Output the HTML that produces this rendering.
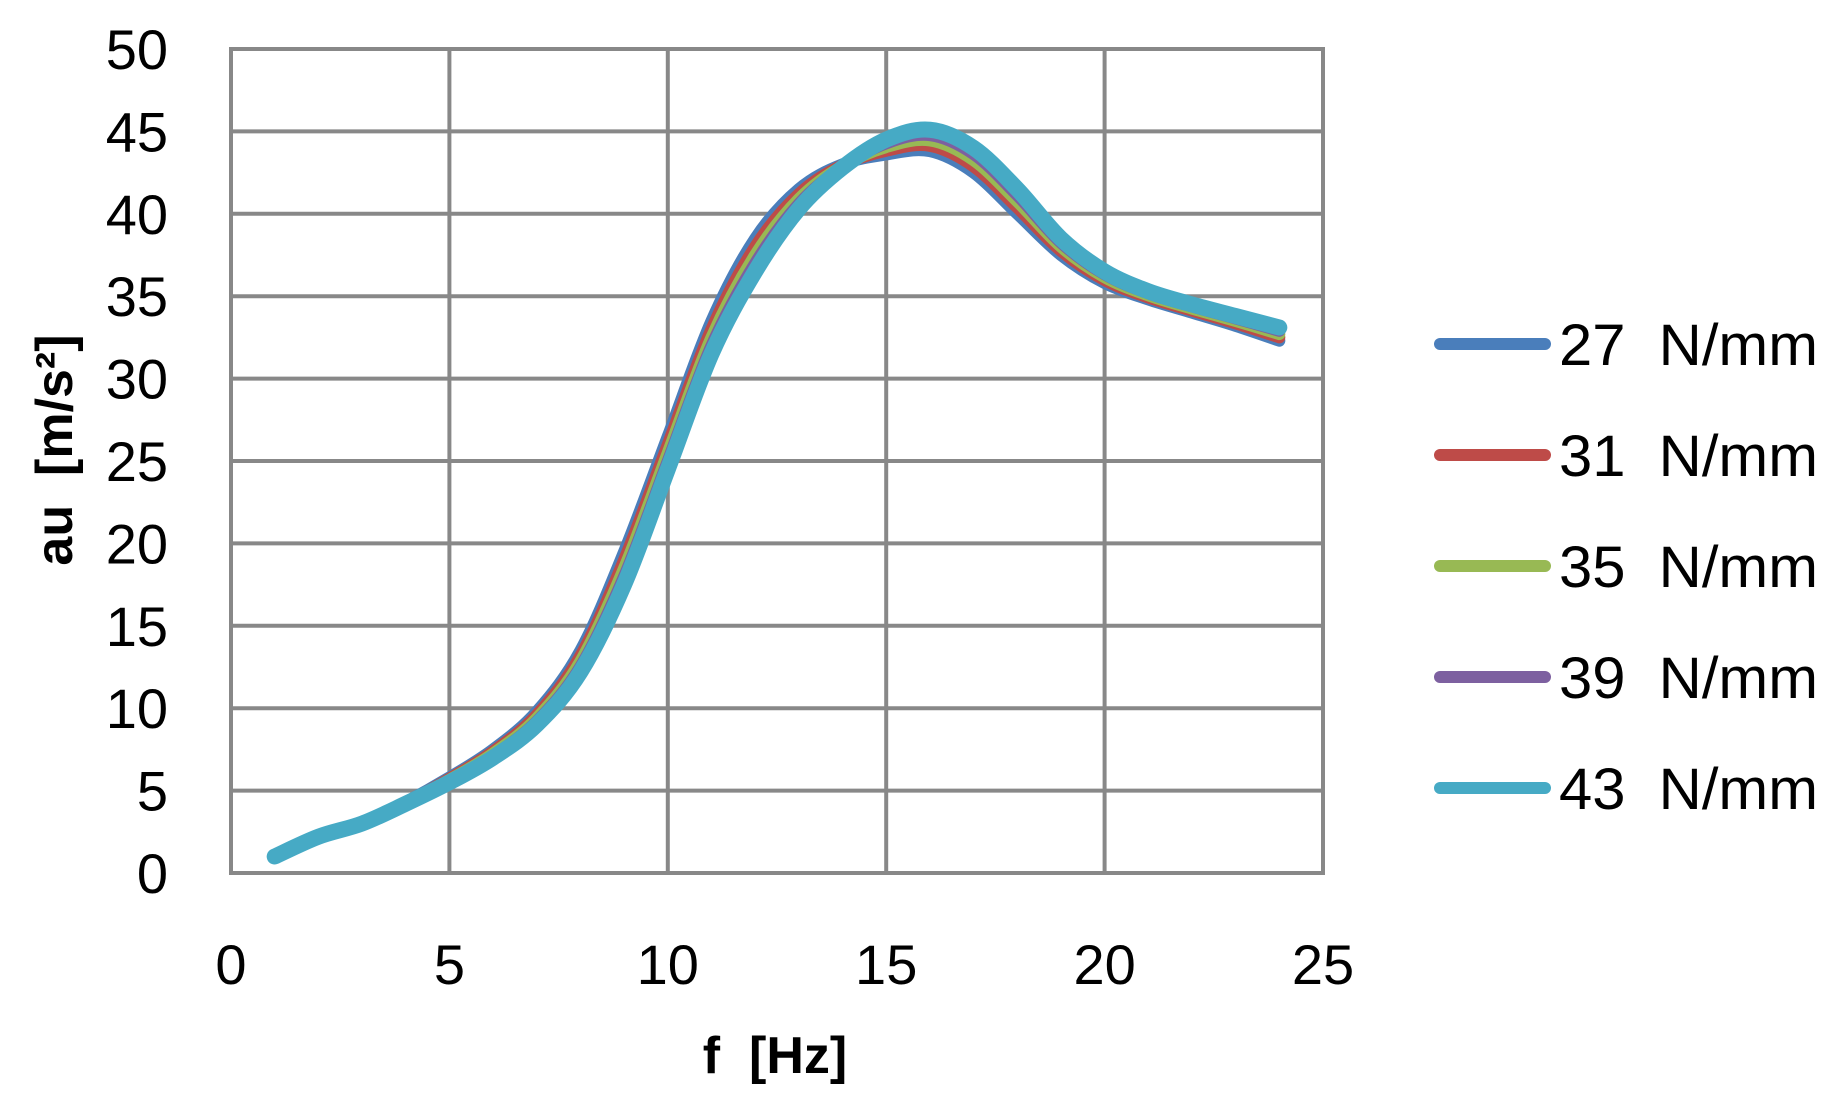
<!DOCTYPE html>
<html><head><meta charset="utf-8"><style>
html,body{margin:0;padding:0;background:#fff}
svg{display:block}
text{font-family:"Liberation Sans",sans-serif;fill:#000;white-space:pre}
</style></head><body>
<svg id="s" width="1846" height="1099" viewBox="0 0 1846 1099" xmlns="http://www.w3.org/2000/svg">
<g id="grid" stroke="#888" stroke-width="4" fill="none"></g>
<g id="curves" fill="none" stroke-linecap="round" stroke-linejoin="round"></g>
<g id="labels" font-size="56"></g>
<text x="775" y="1073" font-size="52" font-weight="bold" text-anchor="middle">f  [Hz]</text>
<text transform="translate(72,450) rotate(-90)" font-size="52" font-weight="bold" text-anchor="middle">au  [m/s²]</text>
<g id="legend"></g>
</svg>
<script>
var L=231,R=1323,T=49,B=873;
function X(v){return L+(R-L)*v/25}
function Y(v){return B-(B-T)*v/50}
var ns="http://www.w3.org/2000/svg";
function el(p,n,a,t){var e=document.createElementNS(ns,n);for(var k in a)e.setAttribute(k,a[k]);if(t!=null)e.textContent=t;document.getElementById(p).appendChild(e);return e}
for(var i=0;i<=5;i++)el("grid","line",{x1:X(i*5),x2:X(i*5),y1:T,y2:B});
for(var j=0;j<=10;j++)el("grid","line",{x1:L-2,x2:R+2,y1:Y(j*5),y2:Y(j*5)});
for(var j=0;j<=10;j++)el("labels","text",{x:168,y:Y(j*5)+20,"text-anchor":"end"},String(j*5));
for(var i=0;i<=5;i++)el("labels","text",{x:X(i*5),y:984,"text-anchor":"middle"},String(i*5));
var a=[1,2.2,3,4.3,5.8,7.5,9.8,13.5,19.5,26.5,33.5,38.5,41.5,43,43.6,43.8,42.5,40,37.5,35.8,34.8,34,33.2,32.3];
var b=[1,2.2,3,4.2,5.5,7,9,12.2,17.5,24.5,31.5,36.5,40.3,42.8,44.5,45.1,44,41.5,38.5,36.5,35.3,34.5,33.8,33.1];
var cols=["#4a7ebb","#be4b48","#98b954","#7d60a0","#46aac5"];
var names=["27","31","35","39","43"];
for(var c=0;c<5;c++){
 var t=c/4,pts=[];
 for(var k=0;k<24;k++)pts.push([X(k+1),Y(a[k]+(b[k]-a[k])*t)]);
 var d="M"+pts[0][0]+","+pts[0][1];
 for(var k=0;k<pts.length-1;k++){
  var p0=pts[Math.max(0,k-1)],p1=pts[k],p2=pts[k+1],p3=pts[Math.min(pts.length-1,k+2)];
  var c1x=p1[0]+(p2[0]-p0[0])/6,c1y=p1[1]+(p2[1]-p0[1])/6,c2x=p2[0]-(p3[0]-p1[0])/6,c2y=p2[1]-(p3[1]-p1[1])/6;
  d+=" C"+c1x+","+c1y+" "+c2x+","+c2y+" "+p2[0]+","+p2[1];
 }
 el("curves","path",{d:d,stroke:cols[c],"stroke-width":c==4?16:12});
 var ly=344+c*111;
 el("legend","line",{x1:1440,x2:1545,y1:ly,y2:ly,stroke:cols[c],"stroke-width":12,"stroke-linecap":"round"});
 el("legend","text",{x:1559,y:ly+21,"font-size":58,textLength:259,lengthAdjust:"spacingAndGlyphs"},names[c]+"  N/mm");
}
</script>
</body></html>
